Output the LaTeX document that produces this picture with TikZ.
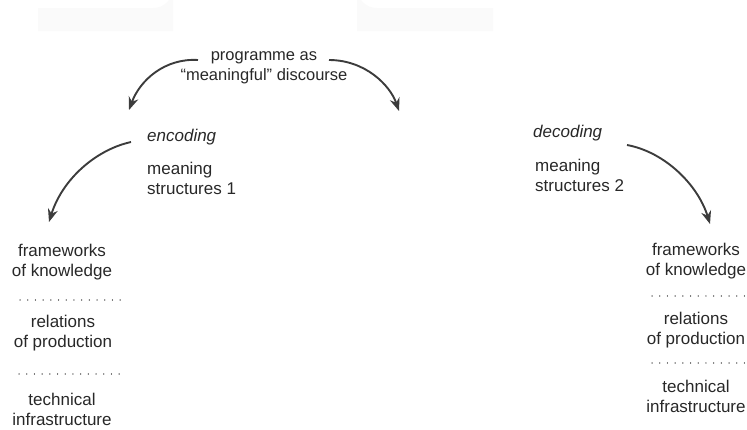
\documentclass[tikz,border=0pt]{standalone}
\usepackage{fontspec}
\setmainfont{Liberation Sans}
\usetikzlibrary{arrows.meta}
\definecolor{ink}{RGB}{40,40,40}
\definecolor{arr}{RGB}{60,60,60}
\definecolor{faint}{RGB}{250,250,250}
\definecolor{dotc}{RGB}{110,110,110}
\tikzset{
  txt/.style={inner sep=0pt, text=ink, font=\fontsize{17}{20}\selectfont, align=center},
  ltxt/.style={inner sep=0pt, text=ink, font=\fontsize{17}{20}\selectfont, align=left, anchor=west},
  curvearrow/.style={draw=arr, line width=1.9pt, -{Stealth[length=13pt,width=10pt]}},
  dotline/.style={draw=dotc, line width=1.3pt, line cap=round, dash pattern=on 0.1pt off 7.6pt},
}
\begin{document}
\begin{tikzpicture}[x=1pt,y=-1pt]
\useasboundingbox (0,0) rectangle (747,429);
% faint scan shapes
\fill[faint] (38,8) -- (153,8) arc[start angle=90,end angle=0,radius=20] -- (173,31) -- (38,31) -- cycle;
\fill[faint] (493,8) -- (377,8) arc[start angle=90,end angle=180,radius=20] -- (357,31) -- (493,31) -- cycle;

% top
\node[txt, font=\fontsize{16.5}{20}\selectfont] (prog) at (264,68) {programme as\\“meaningful” discourse};

% encoding side
\node[ltxt, font=\fontsize{17}{20}\selectfont\itshape] (enc) at (147,137) {encoding};
\node[ltxt] (ms1) at (147,178) {meaning\\structures 1};

% decoding side
\node[ltxt, font=\fontsize{17}{20}\selectfont\itshape] (dec) at (533,133) {decoding};
\node[ltxt] (ms2) at (535,175) {meaning\\structures 2};

% left stack
\node[txt] (fk1) at (62,262) {frameworks\\of knowledge};
\node[txt] (rp1) at (63,333) {relations\\of production};
\node[txt] (ti1) at (62,409) {technical\\infrastructure};
\coordinate (d1a) at (20,300);
\coordinate (d1b) at (124,300);
\coordinate (d2a) at (19,374);
\coordinate (d2b) at (123,374);
\draw[dotline] (d1a) -- (d1b);
\draw[dotline] (d2a) -- (d2b);

% right stack
\node[txt] (fk2) at (696,261) {frameworks\\of knowledge};
\node[txt] (rp2) at (696,330) {relations\\of production};
\node[txt] (ti2) at (696,396) {technical\\infrastructure};
\coordinate (d3a) at (652,296);
\coordinate (d3b) at (746,296);
\coordinate (d4a) at (652,363);
\coordinate (d4b) at (746,363);
\draw[dotline] (d3a) -- (d3b);
\draw[dotline] (d4a) -- (d4b);

% arrows
\coordinate (a1s) at (198,60);
\coordinate (a1e) at (129,110);
\coordinate (a2s) at (329,60);
\coordinate (a2e) at (399,111);
\coordinate (a3s) at (131,142);
\coordinate (a3e) at (49,222);
\coordinate (a4s) at (627,145);
\coordinate (a4e) at (710,224);
\draw[curvearrow] (a1s) .. controls (165,58) and (140,80) .. (a1e);
\draw[curvearrow] (a2s) .. controls (365,60) and (390,85) .. (a2e);
\draw[curvearrow] (a3s) .. controls (95,150) and (62,180) .. (a3e);
\draw[curvearrow] (a4s) .. controls (665,152) and (698,185) .. (a4e);
\end{tikzpicture}
\end{document}
